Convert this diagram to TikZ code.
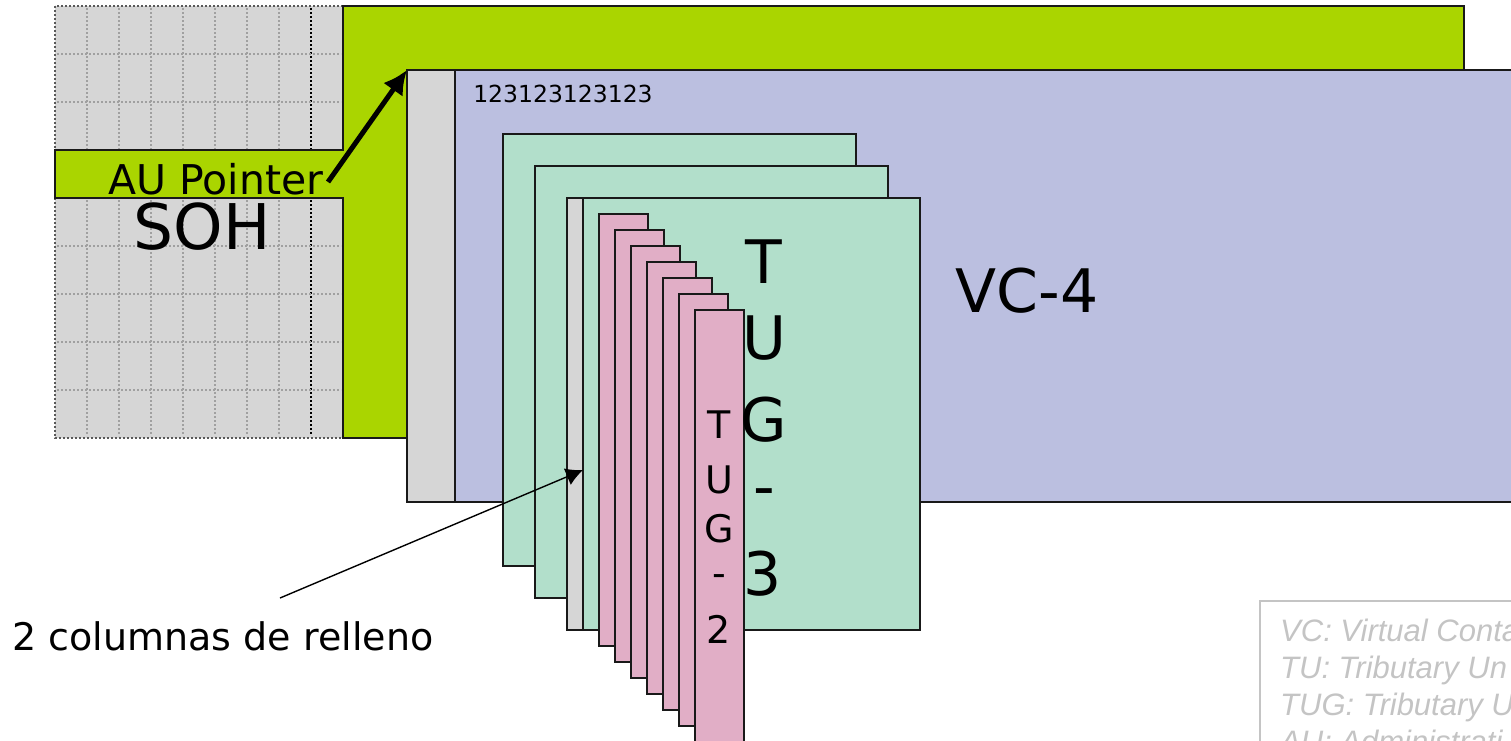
\documentclass[tikz,border=0pt]{standalone}
\usepackage{fontspec}
\setmainfont{DejaVu Sans}
\newfontfamily\legendfont{Liberation Sans}
\usetikzlibrary{arrows.meta}
\definecolor{soh}{HTML}{D6D6D6}
\definecolor{augreen}{HTML}{AAD500}
\definecolor{vclav}{HTML}{BBBFE0}
\definecolor{tugmint}{HTML}{B2DFCB}
\definecolor{tupink}{HTML}{E1AEC6}
\definecolor{legendgray}{HTML}{C4C4C4}
\definecolor{griddot}{HTML}{A0A0A0}
\tikzset{
  x=1pt,y=-1pt,
  box/.style={draw=black!90,line width=2.3pt,anchor=north west,inner sep=0pt,outer sep=0pt},
  griddots/.style={griddot,line width=1.8pt,dash pattern=on 1.8pt off 2.2pt},
  griddark/.style={black,line width=1.5pt,dash pattern=on 1.5pt off 2.5pt},
  gridedge/.style={black!65,line width=2.2pt,dash pattern=on 2pt off 2pt},
  lbl/.style={inner sep=0pt,text=black},
  tuglabel/.style={lbl,font=\fontsize{60}{60}\selectfont},
  tu2label/.style={lbl,font=\fontsize{38}{38}\selectfont},
  pointer/.style={black,line width=5pt,-{Latex[length=24pt,width=24pt]}},
  thinarrow/.style={black,line width=1.4pt,-{Latex[length=17pt,width=18pt]}},
  legendline/.style={anchor=base west,inner sep=0pt,text=legendgray,font=\legendfont\itshape\fontsize{31}{31}\selectfont}
}
\newcommand{\bx}[7]{\node[box,fill=#2,minimum width=#5pt-#3pt,minimum height=#6pt-#4pt] (#1) at (#3,#4) {#7};}
\begin{document}
\begin{tikzpicture}
\useasboundingbox (0,0) rectangle (1511,740);
\clip (0,0) rectangle (1511,740);
% section overhead
\fill[soh] (55,6) rectangle (343,438);
\foreach \gx in {87,119,...,279}{\draw[griddots] (\gx,8) -- (\gx,436);}
\draw[griddark] (311,8) -- (311,436);
\foreach \gy in {54,102,246,294,342,390}{\draw[griddots] (57,\gy) -- (341,\gy);}
\draw[gridedge] (55,6) rectangle (343,438);
% AU payload
\bx{aug}{augreen}{343}{6}{1464}{438}{}
\bx{ptr}{augreen}{55}{150}{343}{198}{}
\fill[augreen] (340,151.2) rectangle (346,196.8);
% VC-4
\bx{vc}{vclav}{407}{70}{1560}{502}{}
\bx{poh}{soh}{407}{70}{455}{502}{}
% TUG-3
\bx{tuga}{tugmint}{503}{134}{856}{566}{}
\bx{tugb}{tugmint}{535}{166}{888}{598}{}
\bx{tugc}{tugmint}{567}{198}{920}{630}{}
\bx{fillcol}{soh}{567}{198}{583}{630}{}
% TUG-2
\bx{tua}{tupink}{599}{214}{648}{646}{}
\bx{tub}{tupink}{615}{230}{664}{662}{}
\bx{tuc}{tupink}{631}{246}{680}{678}{}
\bx{tud}{tupink}{647}{262}{696}{694}{}
\bx{tue}{tupink}{663}{278}{712}{710}{}
\bx{tuf}{tupink}{679}{294}{728}{726}{}
\bx{tug}{tupink}{695}{310}{744}{760}{}
% legend
\node[draw=legendgray,line width=2pt,anchor=north west,minimum width=300pt,minimum height=200pt,inner sep=0pt] (legend) at (1258.5,600) {};
\node[legendline] (l1) at (1280,641) {VC: Virtual Conta};
\node[legendline] (l2) at (1280,678) {TU: Tributary Un};
\node[legendline] (l3) at (1280,715) {TUG: Tributary U};
\node[legendline] (l4) at (1280,752) {AU: Administrati};
% labels
\node[lbl,font=\fontsize{63}{63}\selectfont] (soht) at (202,227) {SOH};
\node[lbl,font=\fontsize{41}{41}\selectfont] (aup) at (216,179) {AU Pointer};
\node[lbl,font=\fontsize{23.5}{23.5}\selectfont] (cols) at (563,94) {123123123123};
\node[lbl,font=\fontsize{60}{60}\selectfont] (vct) at (1027,291) {VC-4};
\node[lbl,font=\fontsize{38}{38}\selectfont] (rel) at (223,636) {2 columnas de relleno};
\node[tuglabel] (t1) at (764,262) {T};
\node[tuglabel] (t2) at (764,338) {U};
\node[tuglabel] (t3) at (764,420) {G};
\node[tuglabel] (t4) at (764,498) {-};
\node[tuglabel] (t5) at (763,574) {3};
\node[tu2label] (s1) at (719,425) {T};
\node[tu2label] (s2) at (719,480) {U};
\node[tu2label] (s3) at (719,529) {G};
\node[tu2label] (s4) at (719,581) {-};
\node[tu2label] (s5) at (719,629) {2};
% arrows
\coordinate (ptrstart) at (328,182);
\coordinate (relstart) at (280,598);
\coordinate (fillhit) at (583,470);
\draw[pointer] (ptrstart) -- (vc.north west);
\draw[thinarrow] (relstart) -- (fillhit);
\end{tikzpicture}
\end{document}
